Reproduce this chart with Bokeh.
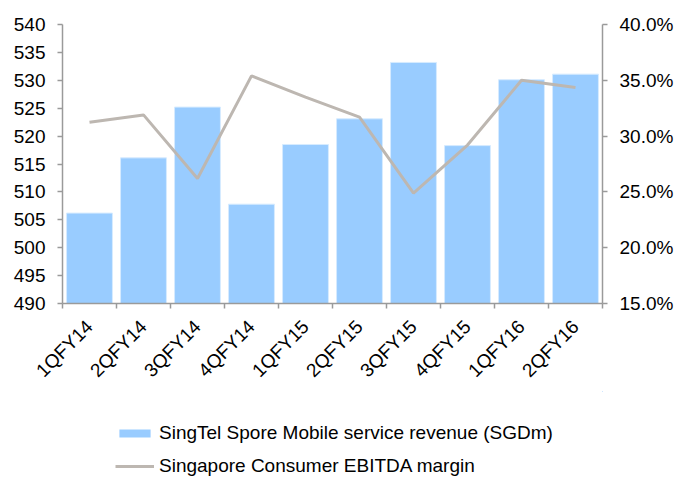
import math
from bokeh.plotting import figure
from bokeh.layouts import column
from bokeh.models import (Range1d, LinearAxis, FixedTicker, NumeralTickFormatter,
                          Legend, LegendItem, ColumnDataSource)
from bokeh.embed import file_html
from bokeh.resources import INLINE

categories = ["1QFY14", "2QFY14", "3QFY14", "4QFY14", "1QFY15",
              "2QFY15", "3QFY15", "4QFY15", "1QFY16", "2QFY16"]
revenue = [506.2, 516.1, 525.2, 507.8, 518.5, 523.1, 533.2, 518.3, 530.1, 531.1]
ebitda_margin = [0.3125, 0.319, 0.262, 0.354, 0.335, 0.317, 0.249, 0.292, 0.350, 0.3435]
left_ticks = [490, 495, 500, 505, 510, 515, 520, 525, 530, 535, 540]
right_ticks = [0.15, 0.20, 0.25, 0.30, 0.35, 0.40]
bar_label = "SingTel Spore Mobile service revenue (SGDm)"
line_label = "Singapore Consumer EBITDA margin"

FONT = "Liberation Sans"
FS = "19px"
AXIS_COLOR = "#9a9a9a"
BAR_FILL = "#99CCFF"
BAR_EDGE = "#D6EBFF"
LINE_COLOR = "#BDB7B1"

xs = [i + 0.5 for i in range(len(categories))]
src = ColumnDataSource(dict(x=xs, rev=revenue, m=ebitda_margin))

p = figure(frame_width=540, frame_height=279, output_backend="svg", toolbar_location=None,
           x_range=Range1d(0, len(categories)), y_range=Range1d(490, 540),
           x_axis_type=None, y_axis_type=None,
           min_border_left=62, min_border_right=77, min_border_top=24, min_border_bottom=80)
p.outline_line_color = None
p.xgrid.visible = False
p.ygrid.visible = False
p.extra_y_ranges = {"pct": Range1d(0.15, 0.40)}

p.vbar(x="x", top="rev", bottom=490, width=0.85, source=src,
       fill_color=BAR_FILL, line_color=BAR_EDGE, line_width=1)
p.line(x="x", y="m", source=src, y_range_name="pct",
       line_color=LINE_COLOR, line_width=3)

def style_axis(ax):
    ax.axis_line_color = AXIS_COLOR
    ax.axis_line_width = 1.5
    ax.major_tick_line_color = AXIS_COLOR
    ax.major_tick_line_width = 1.5
    ax.minor_tick_line_color = AXIS_COLOR
    ax.minor_tick_line_width = 1.5
    ax.major_tick_in = 0
    ax.major_tick_out = 5
    ax.minor_tick_in = 0
    ax.minor_tick_out = 0
    ax.major_label_text_font = FONT
    ax.major_label_text_font_size = FS
    ax.major_label_text_color = "#000000"
    ax.major_label_standoff = 12

yl = LinearAxis(ticker=FixedTicker(ticks=left_ticks))
style_axis(yl)
p.add_layout(yl, "left")

yr = LinearAxis(y_range_name="pct", ticker=FixedTicker(ticks=right_ticks),
                formatter=NumeralTickFormatter(format="0.0%"))
style_axis(yr)
p.add_layout(yr, "right")

xa = LinearAxis(ticker=FixedTicker(ticks=xs, minor_ticks=list(range(len(categories) + 1))),
                major_label_overrides={x: c for x, c in zip(xs, categories)})
style_axis(xa)
xa.major_tick_out = 0
xa.minor_tick_out = 5
xa.major_label_orientation = math.pi / 4
xa.major_label_standoff = 15
p.add_layout(xa, "below")

# legend strip: a second figure whose frame shows no data; its renderers
# reuse the same source but lie outside its ranges, so only the legend shows
lg = figure(width=679, height=94, output_backend="svg", toolbar_location=None,
            x_range=Range1d(-2, -1), y_range=Range1d(-2, -1),
            x_axis_type=None, y_axis_type=None,
            min_border_left=0, min_border_right=0, min_border_top=0, min_border_bottom=0)
lg.outline_line_color = None
lg.xgrid.visible = False
lg.ygrid.visible = False
rb = lg.vbar(x="x", top="rev", bottom=490, width=0.85, source=src,
             fill_color=BAR_FILL, line_color=None)
rl = lg.line(x="x", y="m", source=src, line_color=LINE_COLOR, line_width=3)

legend = Legend(items=[
    LegendItem(label=bar_label, renderers=[rb]),
    LegendItem(label=line_label, renderers=[rl]),
], location=(53, 8), orientation="vertical",
    label_text_font=FONT, label_text_font_size=FS, label_text_color="#000000",
    glyph_width=39, glyph_height=10, label_standoff=5, spacing=11, label_height=22,
    padding=0, margin=0, border_line_color=None, background_fill_alpha=0)
lg.add_layout(legend, "center")

layout = column(p, lg, spacing=0)
open("out.html", "w").write(file_html(layout, INLINE))
